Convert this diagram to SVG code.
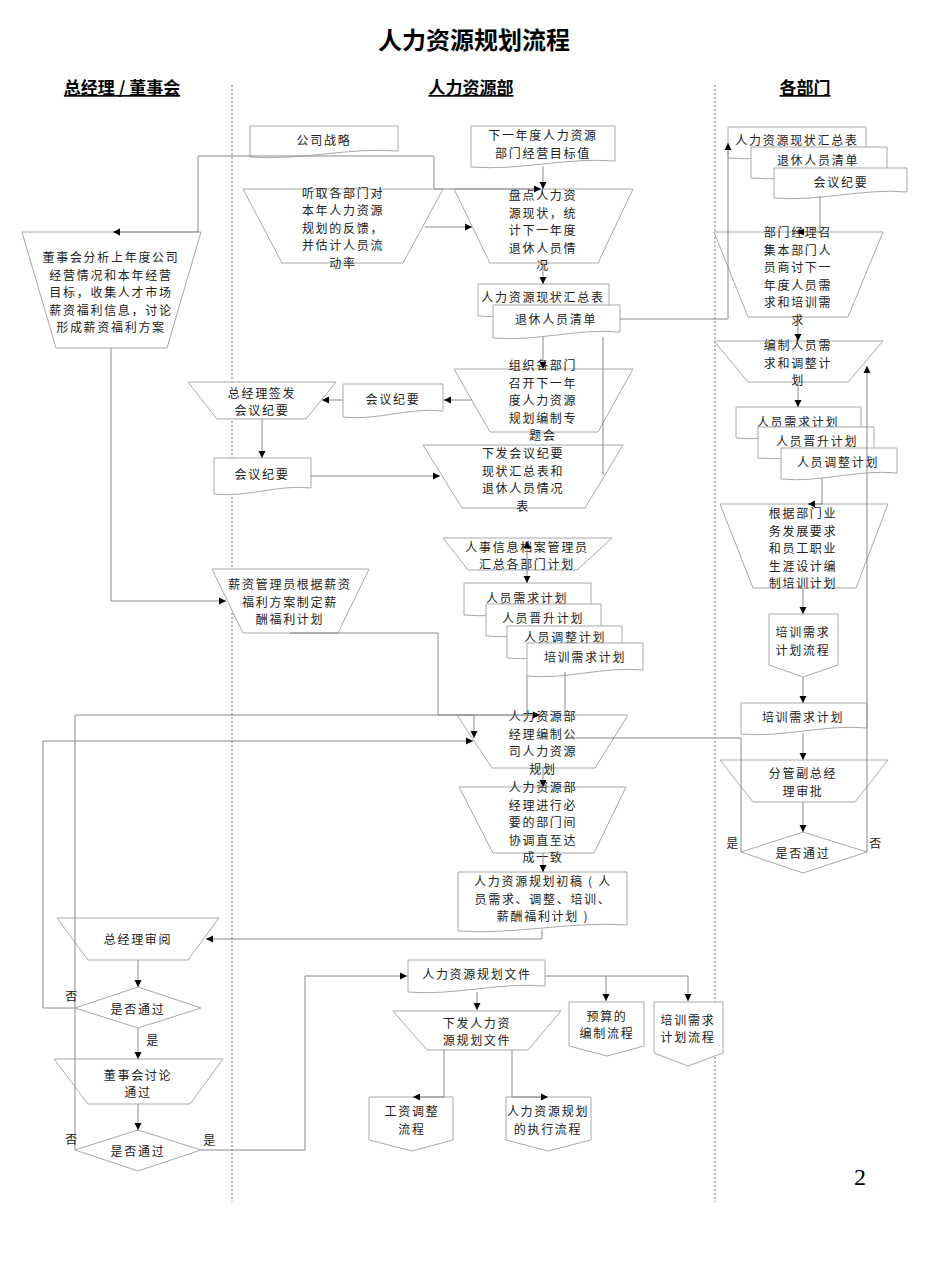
<svg xmlns="http://www.w3.org/2000/svg" width="950" height="1267" viewBox="0 0 950 1267">
<style>
.n{fill:#fff;stroke:#a8a8a8;stroke-width:1}
.c{fill:none;stroke:#8a8a8a;stroke-width:1}
.ca{fill:none;stroke:#8a8a8a;stroke-width:1;marker-end:url(#a)}
.t{font-family:"Noto Sans CJK SC","Noto Sans CJK TC",sans-serif;font-size:12px;letter-spacing:1.7px;fill:#222;text-anchor:middle}
.h{font-family:"Noto Sans CJK SC",sans-serif;font-size:17px;font-weight:bold;fill:#000;text-anchor:middle;text-decoration:underline}
.lane{stroke:#777;stroke-width:1;stroke-dasharray:2,2;fill:none}
</style>
<defs>
<marker id="a" markerWidth="8" markerHeight="8" refX="7" refY="4" orient="auto-start-reverse" markerUnits="userSpaceOnUse"><path d="M0,0.5 L7,4 L0,7.5 Z" fill="#000"/></marker>
</defs>
<rect width="950" height="1267" fill="#fff"/>
<text x="474" y="49" style="font-family:'Noto Sans CJK SC',sans-serif;font-size:24px;font-weight:bold;text-anchor:middle;fill:#000">人力资源规划流程</text>
<g id="lanes">
<text class="h" x="122" y="94">总经理 / 董事会</text>
<text class="h" x="471" y="94">人力资源部</text>
<text class="h" x="805" y="94">各部门</text>
<line class="lane" x1="232" y1="85" x2="232" y2="1202"/>
<line class="lane" x1="715" y1="85" x2="715" y2="1202"/>
</g>
<g id="nodes">
<g id="n1"><path class="n" d="M250,126 H398 V151 C349,147 299,161 250,157 Z"/><text class="t" x="324" y="145">公司战略</text></g>
<g id="n2"><path class="n" d="M471,126 H615 V161 C567,157 519,171 471,167 Z"/><text class="t" x="543" y="140"><tspan x="543">下一年度人力资源</tspan><tspan x="543" dy="17.5">部门经营目标值</tspan></text></g>
<g id="n3"><polygon class="n" points="243,189 443,189 403,263 282,263"/><text class="t" x="343" y="197.5"><tspan x="343">听取各部门对</tspan><tspan x="343" dy="17.5">本年人力资源</tspan><tspan x="343" dy="17.5">规划的反馈，</tspan><tspan x="343" dy="17.5">并估计人员流</tspan><tspan x="343" dy="17.5">动率</tspan></text></g>
<g id="n4"><polygon class="n" points="454,189 633,189 598,263 490,263"/><text class="t" x="543" y="200"><tspan x="543">盘点人力资</tspan><tspan x="543" dy="17.5">源现状，统</tspan><tspan x="543" dy="17.5">计下一年度</tspan><tspan x="543" dy="17.5">退休人员情</tspan><tspan x="543" dy="17.5">况</tspan></text></g>
<g id="n5"><polygon class="n" points="22,232 201,232 167,348 56,348"/><text class="t" x="111" y="262"><tspan x="111">董事会分析上年度公司</tspan><tspan x="111" dy="17.5">经营情况和本年经营</tspan><tspan x="111" dy="17.5">目标，收集人才市场</tspan><tspan x="111" dy="17.5">薪资福利信息，讨论</tspan><tspan x="111" dy="17.5">形成薪资福利方案</tspan></text></g>
<g id="n6"><path class="n" d="M478,284 H609 V310 C566,306 521,320 478,316 Z"/><text class="t" x="543" y="302">人力资源现状汇总表</text></g>
<g id="n7"><path class="n" d="M493,305 H620 V332 C578,328 535,342 493,338 Z"/><text class="t" x="556" y="324">退休人员清单</text></g>
<g id="n8"><polygon class="n" points="454,369 633,369 598,432 490,432"/><text class="t" x="543" y="370"><tspan x="543">组织各部门</tspan><tspan x="543" dy="17.5">召开下一年</tspan><tspan x="543" dy="17.5">度人力资源</tspan><tspan x="543" dy="17.5">规划编制专</tspan><tspan x="543" dy="17.5">题会</tspan></text></g>
<g id="n9"><path class="n" d="M343,384 H443 V411 C410,407 376,421 343,417 Z"/><text class="t" x="393" y="404">会议纪要</text></g>
<g id="n10"><polygon class="n" points="188,382 336,382 306,419 217,419"/><text class="t" x="262" y="397.5"><tspan x="262">总经理签发</tspan><tspan x="262" dy="17.5">会议纪要</tspan></text></g>
<g id="n11"><path class="n" d="M214,458 H311 V488 C279,484 246,498 214,494 Z"/><text class="t" x="262" y="479">会议纪要</text></g>
<g id="n12"><polygon class="n" points="423,445 623,445 585,508 462,508"/><text class="t" x="523" y="458"><tspan x="523">下发会议纪要</tspan><tspan x="523" dy="17.5">现状汇总表和</tspan><tspan x="523" dy="17.5">退休人员情况</tspan><tspan x="523" dy="17.5">表</tspan></text></g>
<g id="n13"><polygon class="n" points="443,538 612,538 577,570 468,570"/><text class="t" x="527" y="551.5"><tspan x="527">人事信息档案管理员</tspan><tspan x="527" dy="17.5">汇总各部门计划</tspan></text></g>
<g id="n14"><polygon class="n" points="212,569 369,569 338,633 243,633"/><text class="t" x="290" y="589"><tspan x="290">薪资管理员根据薪资</tspan><tspan x="290" dy="17.5">福利方案制定薪</tspan><tspan x="290" dy="17.5">酬福利计划</tspan></text></g>
<g id="n15"><path class="n" d="M464,583 H591 V609 C549,605 506,619 464,615 Z"/><text class="t" x="527" y="603">人员需求计划</text></g>
<g id="n16"><path class="n" d="M486,604 H601 V630 C563,626 524,640 486,636 Z"/><text class="t" x="543" y="623">人员晋升计划</text></g>
<g id="n17"><path class="n" d="M507,626 H622 V652 C584,648 545,662 507,658 Z"/><text class="t" x="565" y="642">人员调整计划</text></g>
<g id="n18"><path class="n" d="M527,643 H643 V670 C605,666 565,680 527,676 Z"/><text class="t" x="585" y="662">培训需求计划</text></g>
<g id="n19"><polygon class="n" points="457,715 628,715 595,768 492,768"/><text class="t" x="543" y="721"><tspan x="543">人力资源部</tspan><tspan x="543" dy="17.5">经理编制公</tspan><tspan x="543" dy="17.5">司人力资源</tspan><tspan x="543" dy="17.5">规划</tspan></text></g>
<g id="n20"><polygon class="n" points="459,787 626,787 594,853 493,853"/><text class="t" x="543" y="792"><tspan x="543">人力资源部</tspan><tspan x="543" dy="17.5">经理进行必</tspan><tspan x="543" dy="17.5">要的部门间</tspan><tspan x="543" dy="17.5">协调直至达</tspan><tspan x="543" dy="17.5">成一致</tspan></text></g>
<g id="n21"><path class="n" d="M458,872 H627 V925 C571,921 514,935 458,931 Z"/><text class="t" x="543" y="886"><tspan x="543">人力资源规划初稿 ( 人</tspan><tspan x="543" dy="17.5">员需求、调整、培训、</tspan><tspan x="543" dy="17.5">薪酬福利计划 )</tspan></text></g>
<g id="n22"><polygon class="n" points="57,918 219,918 188,960 88,960"/><text class="t" x="138" y="944">总经理审阅</text></g>
<g id="n23"><polygon class="n" points="75,1008 138,987 201,1008 138,1028"/><text class="t" x="138" y="1014">是否通过</text></g>
<g id="n24"><polygon class="n" points="54,1059 223,1059 190,1104 88,1104"/><text class="t" x="138" y="1079.75"><tspan x="138">董事会讨论</tspan><tspan x="138" dy="17.5">通过</tspan></text></g>
<g id="n25"><polygon class="n" points="75,1150 138,1130 201,1150 138,1171"/><text class="t" x="138" y="1156">是否通过</text></g>
<g id="n26"><path class="n" d="M408,960 H545 V986 C500,982 453,996 408,992 Z"/><text class="t" x="477" y="979">人力资源规划文件</text></g>
<g id="n27"><polygon class="n" points="393,1011 561,1011 528,1050 427,1050"/><text class="t" x="477" y="1027.75"><tspan x="477">下发人力资</tspan><tspan x="477" dy="17.5">源规划文件</tspan></text></g>
<g id="n28"><path class="n" d="M569,1002 H644 V1046 L607,1056 L569,1046 Z"/><text class="t" x="607" y="1020.75"><tspan x="607">预算的</tspan><tspan x="607" dy="17.5">编制流程</tspan></text></g>
<g id="n29"><path class="n" d="M654,1002 H723 V1053 L688,1066 L654,1053 Z"/><text class="t" x="688" y="1024.75"><tspan x="688">培训需求</tspan><tspan x="688" dy="17.5">计划流程</tspan></text></g>
<g id="n30"><path class="n" d="M369,1097 H453 V1140 L412,1151 L369,1140 Z"/><text class="t" x="412" y="1116.25"><tspan x="412">工资调整</tspan><tspan x="412" dy="17.5">流程</tspan></text></g>
<g id="n31"><path class="n" d="M506,1097 H591 V1140 L548,1151 L506,1140 Z"/><text class="t" x="548" y="1116.25"><tspan x="548">人力资源规划</tspan><tspan x="548" dy="17.5">的执行流程</tspan></text></g>
<g id="n32"><path class="n" d="M728,127 H866 V152 C820,148 774,162 728,158 Z"/><text class="t" x="797" y="145">人力资源现状汇总表</text></g>
<g id="n33"><path class="n" d="M751,147 H887 V172 C842,168 796,182 751,178 Z"/><text class="t" x="818" y="165">退休人员清单</text></g>
<g id="n34"><path class="n" d="M774,168 H907 V192 C863,188 818,202 774,198 Z"/><text class="t" x="841" y="187">会议纪要</text></g>
<g id="n35"><polygon class="n" points="714,232 883,232 848,317 748,317"/><text class="t" x="798" y="237"><tspan x="798">部门经理召</tspan><tspan x="798" dy="17.5">集本部门人</tspan><tspan x="798" dy="17.5">员商讨下一</tspan><tspan x="798" dy="17.5">年度人员需</tspan><tspan x="798" dy="17.5">求和培训需</tspan><tspan x="798" dy="17.5">求</tspan></text></g>
<g id="n36"><polygon class="n" points="714,341 883,341 848,382 748,382"/><text class="t" x="798" y="350"><tspan x="798">编制人员需</tspan><tspan x="798" dy="17.5">求和调整计</tspan><tspan x="798" dy="17.5">划</tspan></text></g>
<g id="n37"><path class="n" d="M736,407 H861 V432 C820,428 777,442 736,438 Z"/><text class="t" x="798" y="427">人员需求计划</text></g>
<g id="n38"><path class="n" d="M758,427 H874 V452 C836,448 796,462 758,458 Z"/><text class="t" x="817" y="446">人员晋升计划</text></g>
<g id="n39"><path class="n" d="M781,448 H897 V473 C859,469 819,483 781,479 Z"/><text class="t" x="838" y="467">人员调整计划</text></g>
<g id="n40"><polygon class="n" points="720,504 888,504 856,588 753,588"/><text class="t" x="803" y="518"><tspan x="803">根据部门业</tspan><tspan x="803" dy="17.5">务发展要求</tspan><tspan x="803" dy="17.5">和员工职业</tspan><tspan x="803" dy="17.5">生涯设计编</tspan><tspan x="803" dy="17.5">制培训计划</tspan></text></g>
<g id="n41"><path class="n" d="M769,614 H838 V665 L803,677 L769,665 Z"/><text class="t" x="803" y="637.25"><tspan x="803">培训需求</tspan><tspan x="803" dy="17.5">计划流程</tspan></text></g>
<g id="n42"><path class="n" d="M741,703 H867 V728 C825,724 783,738 741,734 Z"/><text class="t" x="803" y="722">培训需求计划</text></g>
<g id="n43"><polygon class="n" points="720,760 888,760 855,802 753,802"/><text class="t" x="803" y="778.25"><tspan x="803">分管副总经</tspan><tspan x="803" dy="17.5">理审批</tspan></text></g>
<g id="n44"><polygon class="n" points="741,852 803,832 867,852 803,873"/><text class="t" x="803" y="858">是否通过</text></g>
</g>
<g id="connectors">
<path class="ca" d="M434,156 H198 V232 H113"/>
<path class="ca" d="M434,156 V189 H541"/>
<path class="ca" d="M543,166 V189"/>
<path class="ca" d="M425,227 H472"/>
<path class="ca" d="M543,263 V284"/>
<path class="ca" d="M620,319 H728 V143"/>
<path class="ca" d="M543,337 V369"/>
<path class="c" d="M603,337 V475"/>
<path class="ca" d="M472,400 H444"/>
<path class="ca" d="M343,400 H322"/>
<path class="ca" d="M262,419 V458"/>
<path class="ca" d="M311,476 H440"/>
<path class="ca" d="M111,348 V601 H226"/>
<path class="ca" style="marker-start:url(#a)" d="M527,541 V583"/>
<path class="ca" d="M290,633 H438 V715 H540"/>
<path class="c" d="M527,676 V715"/>
<path class="c" d="M565,672 V715"/>
<path class="ca" d="M75,1008 H43 V741 H473"/>
<path class="ca" d="M75,1150 V715 H474 V738"/>
<path class="c" d="M741,852 V738 H567"/>
<path class="ca" d="M867,852 V366"/>
<path class="ca" d="M543,768 V787"/>
<path class="ca" d="M543,853 V872"/>
<path class="ca" d="M542,929 V939 H206"/>
<path class="ca" d="M138,960 V987"/>
<path class="ca" d="M138,1028 V1059"/>
<path class="ca" d="M138,1104 V1130"/>
<path class="ca" d="M201,1150 H305 V976 H407"/>
<path class="ca" d="M545,976 H688 V1001"/>
<path class="ca" d="M606,976 V1001"/>
<path class="ca" d="M477,992 V1010"/>
<path class="ca" d="M444,1050 V1097 H413"/>
<path class="ca" d="M512,1050 V1097 H548"/>
<path class="ca" d="M820,196 V232 H797"/>
<path class="ca" d="M798,317 V341"/>
<path class="ca" d="M798,382 V407"/>
<path class="ca" d="M822,478 V504 H808"/>
<path class="ca" d="M803,588 V614"/>
<path class="ca" d="M803,677 V703"/>
<path class="ca" d="M803,733 V760"/>
<path class="ca" d="M803,802 V832"/>
</g>
<g id="labels">
<text class="t" x="72" y="1001">否</text>
<text class="t" x="153" y="1045">是</text>
<text class="t" x="72" y="1144">否</text>
<text class="t" x="210" y="1145">是</text>
<text class="t" x="733" y="848">是</text>
<text class="t" x="876" y="848">否</text>
</g>
<text x="860" y="1185" style="font-family:'Liberation Serif',serif;font-size:24px;text-anchor:middle;fill:#000">2</text>
</svg>
